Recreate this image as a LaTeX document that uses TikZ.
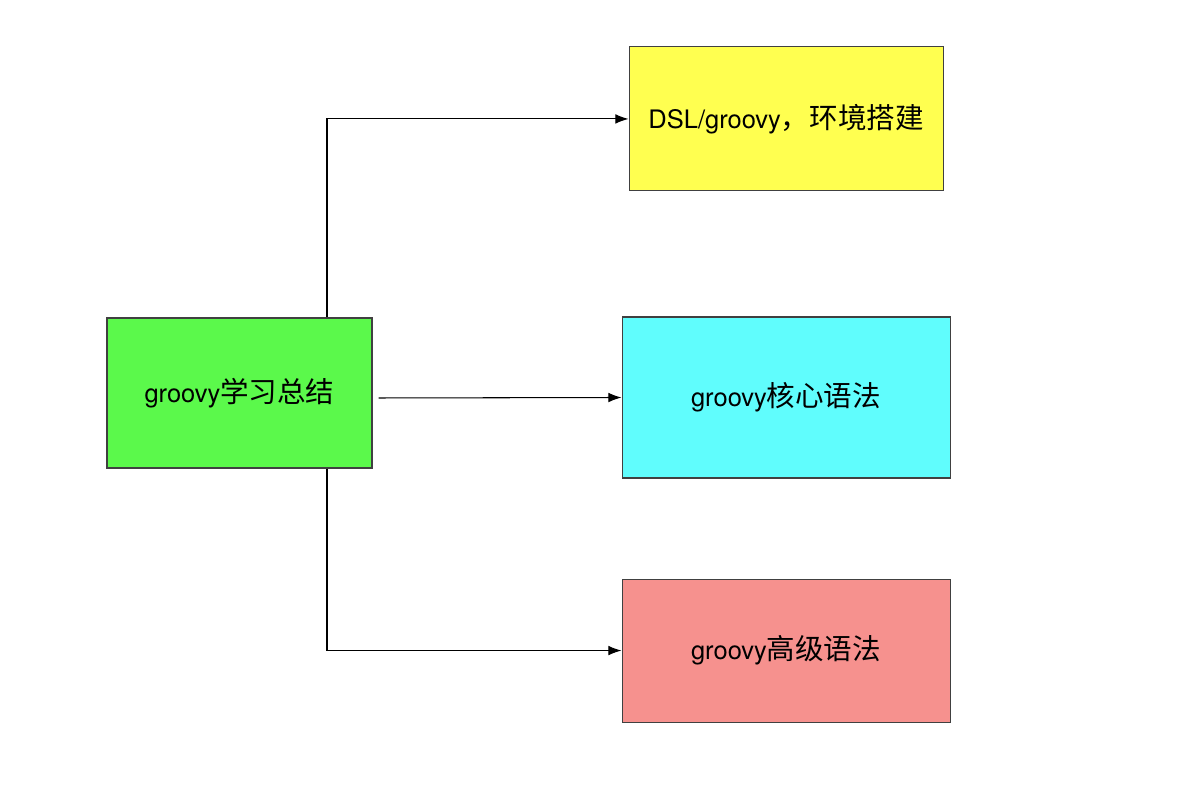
\documentclass[tikz,border=0pt]{standalone}
\usepackage{fontspec}
\setmainfont{TeX Gyre Heros}
\newfontfamily\cjk{Noto Sans CJK SC}[Scale=1.12]
\usetikzlibrary{positioning,arrows.meta}
\definecolor{boxgreen}{RGB}{91,249,75}
\definecolor{boxyellow}{RGB}{255,255,80}
\definecolor{boxcyan}{RGB}{96,253,253}
\definecolor{boxred}{RGB}{246,145,142}

\begin{document}
\begin{tikzpicture}[-{Latex[length=7.5pt,width=5.5pt]},line width=0.6pt,
		topic node/.style={rectangle,draw=black!75,line width=0.6pt,font=\fontsize{14.5}{16}\selectfont},
		main node/.style={topic node,fill=boxgreen,minimum width=5.3cm,minimum height=3.0cm}]
		\useasboundingbox (0,0) rectangle (23.96,-15.8);
		
		\node[main node] (main) at (4.79,-7.86) {groovy{\cjk 学习总结}};
		\node[topic node,fill=boxcyan,minimum width=6.56cm,minimum height=3.22cm] (core) [right=4.98cm of main,yshift=-0.09cm] {groovy{\cjk 核心语法}};
		\node[topic node,fill=boxyellow,minimum width=6.28cm,minimum height=2.88cm] (dsl) [above=2.5cm of core] {DSL/groovy{\cjk ，环境搭建}};
		\node[topic node,fill=boxred,minimum width=6.56cm,minimum height=2.86cm] (adv) [below=2.0cm of core] {groovy{\cjk 高级语法}};
		
		\draw ([xshift=1.75cm]main.north) |- (dsl.west);
		\draw[shorten <=0.12cm] ([yshift=-0.1cm]main.east) -- (core.west);
		\draw ([xshift=1.75cm]main.south) |- (adv.west);
		\end{tikzpicture}
\end{document}
